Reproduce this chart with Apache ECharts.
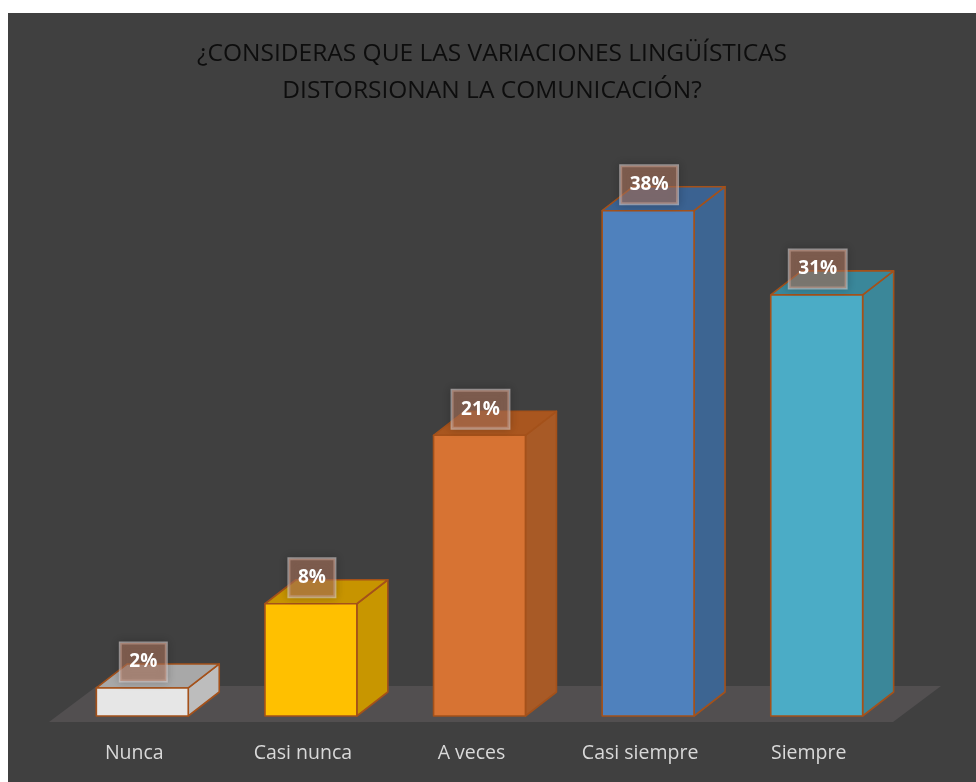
<!DOCTYPE html>
<html>
<head>
<meta charset="utf-8">
<script src="https://cdn.jsdelivr.net/npm/echarts@6/dist/echarts.min.js"></script>
<style>
  html, body { margin: 0; padding: 0; background: #ffffff; width: 976px; height: 782px; overflow: hidden; }
  #chart { position: absolute; left: 8px; top: 13px; width: 968px; height: 769px; }
</style>
</head>
<body>
<div id="chart"></div>
<script>
const categories = ['Nunca', 'Casi nunca', 'A veces', 'Casi siempre', 'Siempre'];
const values = [2.08, 8.33, 20.83, 37.5, 31.25];
const valueLabels = ['2%', '8%', '21%', '38%', '31%'];

const frontColors = ['#e6e6e6', '#ffc000', '#d77333', '#4f81bd', '#4bacc6'];
const topColors = ['#a8a8a8', '#c79400', '#a9561f', '#3b6291', '#3a879a'];
const sideColors = ['#bdbdbd', '#c89600', '#a85a26', '#3d6592', '#3b8799'];

const chart = echarts.init(document.getElementById('chart'));
const DX = 31, DY = -24;
const EDGE = '#a4511a';

function renderBar(params, api) {
  const i = api.value(0);
  const v = api.value(1);
  const top = api.coord([i, v]);
  const base = api.coord([i, 0]);
  const bw = api.size([1, 0])[0] * 0.545;
  const x0 = top[0] - bw / 2, x1 = top[0] + bw / 2;
  const yT = top[1], yB = base[1];
  const edge = { stroke: EDGE, lineWidth: 1.6, lineJoin: 'round' };
  return {
    type: 'group',
    children: [
      {
        type: 'polygon',
        shape: { points: [[x1, yT], [x1 + DX, yT + DY], [x1 + DX, yB + DY], [x1, yB]] },
        style: Object.assign({ fill: sideColors[i] }, edge)
      },
      {
        type: 'polygon',
        shape: { points: [[x0, yT], [x1, yT], [x1 + DX, yT + DY], [x0 + DX, yT + DY]] },
        style: Object.assign({ fill: topColors[i] }, edge)
      },
      {
        type: 'rect',
        shape: { x: x0, y: yT, width: bw, height: yB - yT },
        style: Object.assign({ fill: frontColors[i] }, edge)
      },
      {
        type: 'text',
        x: top[0] + 1,
        y: yT - 26,
        z2: 10,
        style: {
          text: valueLabels[i],
          align: 'center',
          verticalAlign: 'middle',
          fill: '#ffffff',
          font: 'bold 19px "Open Sans", sans-serif',
          backgroundColor: 'rgba(182, 122, 96, 0.55)',
          borderColor: 'rgba(225, 215, 215, 0.6)',
          borderWidth: 1.5,
          padding: [10, 9, 9, 9],
          shadowColor: 'rgba(0,0,0,0.3)',
          shadowBlur: 8
        }
      }
    ]
  };
}

function renderFloor(params, api) {
  const cs = params.coordSys;
  const yB = cs.y + cs.height;
  const xL = cs.x, xR = cs.x + cs.width;
  return {
    type: 'polygon',
    shape: {
      points: [[xL - 9, yB + 6], [xR - 8, yB + 6], [xR + 40, yB - 30], [xL + 39, yB - 30]]
    },
    style: { fill: '#524f50' }
  };
}

chart.setOption({
  backgroundColor: '#404040',
  animation: false,
  title: {
    text: '¿CONSIDERAS QUE LAS VARIACIONES LINGÜÍSTICAS\nDISTORSIONAN LA COMUNICACIÓN?',
    left: 'center',
    top: 18,
    textStyle: {
      color: '#0d0d0d',
      fontFamily: '"Open Sans", sans-serif',
      fontWeight: 'normal',
      fontSize: 24.5,
      lineHeight: 37
    }
  },
  grid: { left: 50, right: 75, top: 164, bottom: 66 },
  xAxis: {
    type: 'category',
    data: categories,
    axisLine: { show: false },
    axisTick: { show: false },
    axisLabel: {
      color: '#d9d9d9',
      fontFamily: '"Open Sans", sans-serif',
      fontSize: 19.5,
      margin: 27,
      padding: [0, 16, 0, 0]
    }
  },
  yAxis: {
    type: 'value',
    min: 0,
    max: 40,
    show: false,
    splitLine: { show: false }
  },
  series: [
    {
      type: 'custom',
      renderItem: renderFloor,
      data: [[0, 0]],
      z: 1,
      silent: true
    },
    {
      type: 'custom',
      renderItem: renderBar,
      data: values.map((v, i) => [i, v]),
      encode: { x: 0, y: 1 },
      z: 2
    }
  ]
});
</script>
</body>
</html>
